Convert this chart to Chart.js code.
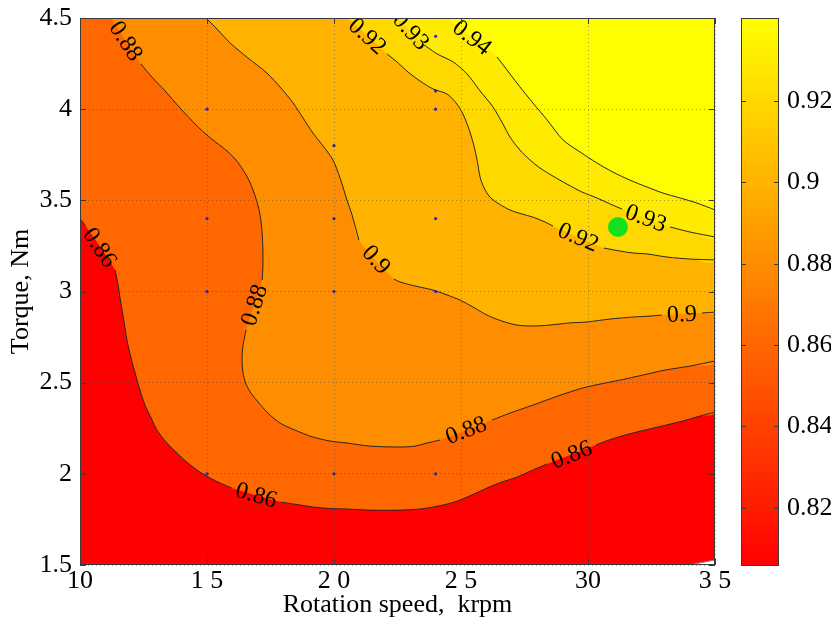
<!DOCTYPE html>
<html>
<head>
<meta charset="utf-8">
<title>Efficiency map</title>
<script src="https://cdn.jsdelivr.net/npm/chart.js@4"></script>
<style>
  html, body { margin: 0; padding: 0; background: #fff; }
  #wrap { position: relative; width: 831px; height: 625px; overflow: hidden; }
  #map { position: absolute; left: 0; top: 0; }
  #bar { position: absolute; left: 741px; top: 0; }
</style>
</head>
<body>
<div id="wrap">
  <canvas id="map" width="741" height="625"></canvas>
  <canvas id="bar" width="90" height="625"></canvas>
</div>
<script>
// Efficiency map: filled iso-efficiency contours over speed (krpm) / torque (Nm)

const speedRange = [10, 35];
const torqueRange = [1.5, 4.5];
const speedTicks = [10, 15, 20, 25, 30, 35];
const speedTickLabels = ["10", "1 5", "2 0", "2 5", "30", "3 5"];
const torqueTicks = [1.5, 2, 2.5, 3, 3.5, 4, 4.5];
const torqueTickLabels = ["1.5", "2", "2.5", "3", "3.5", "4", "4.5"];

// colour scale (autumn: red -> yellow)
const effRange = [0.8057, 0.9404];
const effTicks = [0.82, 0.84, 0.86, 0.88, 0.9, 0.92];
const effTickLabels = ["0.82", "0.84", "0.86", "0.88", "0.9", "0.92"];

// iso-efficiency lines as [speed, torque] runs; each break between runs holds a label
const iso086 = [
  [[10.00, 3.398], [10.20, 3.365]],
  [[11.38, 3.118], [11.50, 3.035], [11.57, 2.970], [11.69, 2.871], [11.85, 2.734], [12.01, 2.635],
   [12.17, 2.553], [12.36, 2.460], [12.56, 2.377], [12.80, 2.306], [13.03, 2.240], [13.39, 2.174],
   [13.82, 2.114], [14.25, 2.059], [14.72, 2.010], [15.12, 1.977], [15.51, 1.950], [15.98, 1.922]],
  [[17.91, 1.845], [18.66, 1.829], [19.17, 1.818], [19.84, 1.810], [20.51, 1.807], [21.42, 1.801],
   [22.60, 1.801], [23.39, 1.807], [23.90, 1.818], [24.45, 1.834], [24.96, 1.856], [25.51, 1.889],
   [26.02, 1.922], [26.61, 1.955], [27.20, 1.982], [27.83, 2.021], [28.39, 2.054]],
  [[30.31, 2.158], [30.94, 2.191], [31.77, 2.224], [32.76, 2.257], [33.74, 2.290], [34.41, 2.317],
   [35.00, 2.339]],
];
const iso088 = [
  [[11.22, 4.500]],
  [[12.40, 4.248], [12.83, 4.176], [13.35, 4.100], [13.94, 4.006], [14.65, 3.902], [15.00, 3.858],
   [15.39, 3.814], [15.79, 3.771], [16.14, 3.721], [16.42, 3.666], [16.65, 3.611], [16.81, 3.557],
   [16.97, 3.491], [17.09, 3.420], [17.17, 3.321], [17.20, 3.227], [17.20, 3.134], [17.17, 3.063]],
  [[16.54, 2.789], [16.42, 2.706], [16.38, 2.624], [16.42, 2.553], [16.54, 2.492], [16.73, 2.443],
   [17.01, 2.394], [17.40, 2.333], [17.87, 2.279], [18.46, 2.240], [19.17, 2.202], [19.84, 2.180],
   [20.51, 2.169], [21.42, 2.152], [22.60, 2.147], [23.19, 2.152], [23.66, 2.169], [24.17, 2.185]],
  [[26.22, 2.295], [26.93, 2.333], [27.83, 2.377], [28.82, 2.427], [29.80, 2.471], [30.47, 2.492],
   [31.26, 2.514], [32.17, 2.542], [33.03, 2.569], [34.02, 2.591], [35.00, 2.619]],
];
const iso090 = [
  [[14.96, 4.500], [15.43, 4.434], [15.91, 4.363], [16.61, 4.281], [17.36, 4.198], [17.91, 4.116],
   [18.39, 4.034], [18.78, 3.952], [19.17, 3.869], [19.57, 3.798], [19.96, 3.721], [20.24, 3.622],
   [20.51, 3.502], [20.71, 3.420], [20.98, 3.282]],
  [[22.36, 3.068], [22.60, 3.052], [23.19, 3.030], [23.90, 3.008], [24.45, 2.981], [24.96, 2.953],
   [25.47, 2.915], [26.02, 2.871], [26.61, 2.838], [27.20, 2.816], [27.83, 2.811], [28.50, 2.816],
   [29.21, 2.827], [29.96, 2.833], [30.87, 2.849], [31.77, 2.860], [32.44, 2.865], [32.91, 2.871]],
  [[34.49, 2.882], [35.00, 2.887]],
];
const iso092 = [
  [[20.55, 4.500]],
  [[22.09, 4.303], [22.48, 4.259], [22.87, 4.209], [23.39, 4.154], [23.90, 4.111], [24.45, 4.083],
   [24.84, 4.028], [25.08, 3.973], [25.24, 3.919], [25.39, 3.858], [25.55, 3.776], [25.67, 3.694],
   [25.75, 3.628], [25.91, 3.568], [26.14, 3.518], [26.50, 3.480], [26.93, 3.447], [27.40, 3.425],
   [27.83, 3.408], [28.31, 3.381], [28.62, 3.359]],
  [[30.63, 3.238], [31.26, 3.222], [31.77, 3.211], [32.32, 3.206], [33.11, 3.189], [34.02, 3.178],
   [35.00, 3.173]],
];
const iso093 = [
  [[22.56, 4.500]],
  [[23.50, 4.357], [24.06, 4.303], [24.69, 4.259], [25.24, 4.193], [25.75, 4.100], [26.26, 4.012],
   [26.65, 3.919], [26.93, 3.847], [27.32, 3.776], [27.72, 3.721], [28.11, 3.677], [28.62, 3.633],
   [29.17, 3.589], [29.76, 3.546], [30.35, 3.513], [30.87, 3.480], [31.34, 3.452]],
  [[33.23, 3.354], [34.02, 3.326], [35.00, 3.299]],
];
const iso094 = [
  [[24.45, 4.500]],
  [[26.42, 4.286], [26.93, 4.193], [27.32, 4.122], [27.83, 4.034], [28.39, 3.941], [29.02, 3.831],
   [29.69, 3.765], [30.35, 3.705], [30.98, 3.655], [31.65, 3.611], [32.32, 3.573], [32.95, 3.540],
   [33.62, 3.513], [34.29, 3.485], [35.00, 3.447]],
];
const contourLevels = [0.86, 0.88, 0.9, 0.92, 0.93, 0.94];
const contourLines = [iso086, iso088, iso090, iso092, iso093, iso094];

// corner outside the measured envelope (no data)
const noDataCorner = [[33.98, 1.5], [35.00, 1.527], [35.00, 1.5]];

// measured operating points
const pointSpeed = [15, 15, 15, 15, 20, 20, 20, 20, 24, 24, 24, 24, 24, 24];
const pointTorque = [4.0, 3.4, 3.0, 2.0, 3.8, 3.4, 3.0, 2.0, 4.4, 4.1, 4.0, 3.4, 3.0, 2.0];
const optimumSpeed = [31.18];
const optimumTorque = [3.354];

const SERIF = '"Liberation Serif", "Times New Roman", serif';
const LINE = "#262626";

const autumn = (t) => `rgb(255, ${Math.round(255 * Math.min(1, Math.max(0, t)))}, 0)`;
const levelColor = (v) => autumn((v - effRange[0]) / (effRange[1] - effRange[0]));
const toXY = (pts) => pts.map(([x, y]) => ({ x, y }));

// close a contour along the right/top (and left) edges into the region above it
function outline(pieces) {
  const pts = pieces.flat();
  const first = pts[0], last = pts[pts.length - 1];
  if (last[0] === speedRange[1]) pts.push([speedRange[1], torqueRange[1]]);
  if (first[0] === speedRange[0]) pts.push([speedRange[0], torqueRange[1]]);
  return pts;
}

const datasets = [];
const area = (data, color, order, tension) => ({
  data: toXY(data), showLine: true, fill: "shape", backgroundColor: color,
  borderWidth: 0, pointRadius: 0, tension, order,
});

datasets.push(area([[speedRange[0], torqueRange[0]], [speedRange[1], torqueRange[0]],
  [speedRange[1], torqueRange[1]], [speedRange[0], torqueRange[1]]], autumn(0), 30, 0));
contourLevels.forEach((lv, i) => {
  datasets.push(area(outline(contourLines[i]), levelColor(lv), 29 - i, 0.3));
});
datasets.push({ ...area(noDataCorner, "#ffffff", 20, 0), borderWidth: 1, borderColor: "#8a8a8a" });

contourLines.forEach((pieces) => {
  pieces.filter((p) => p.length > 1).forEach((p) => {
    datasets.push({
      data: toXY(p), showLine: true, fill: false, borderColor: LINE, borderWidth: 1,
      pointRadius: 0, tension: 0.3, order: 5,
    });
  });
});

datasets.push({
  data: pointSpeed.map((x, i) => ({ x, y: pointTorque[i] })),
  pointRadius: 1.6, pointBackgroundColor: "#2626b8", pointBorderWidth: 0, order: 2,
});
datasets.push({
  data: optimumSpeed.map((x, i) => ({ x, y: optimumTorque[i] })),
  pointRadius: 10, pointBackgroundColor: "#12e21e", pointBorderWidth: 0, order: 1,
});

// inline contour labels, sitting in the breaks of each line, plus the axes box
const mapOverlay = {
  id: "mapOverlay",
  afterDraw(chart) {
    const { ctx, chartArea: a, scales: { x, y } } = chart;
    ctx.save();
    ctx.beginPath();
    ctx.rect(a.left, a.top, a.width, a.height);
    ctx.clip();
    ctx.font = `24px ${SERIF}`;
    ctx.fillStyle = "#000";
    ctx.textAlign = "center";
    ctx.textBaseline = "middle";
    contourLines.forEach((pieces, k) => {
      for (let i = 0; i + 1 < pieces.length; i++) {
        const p = pieces[i][pieces[i].length - 1], q = pieces[i + 1][0];
        const x1 = x.getPixelForValue(p[0]), y1 = y.getPixelForValue(p[1]);
        const x2 = x.getPixelForValue(q[0]), y2 = y.getPixelForValue(q[1]);
        let ang = Math.atan2(y2 - y1, x2 - x1);
        if (ang > Math.PI / 2) ang -= Math.PI;
        if (ang < -Math.PI / 2) ang += Math.PI;
        ctx.save();
        ctx.translate((x1 + x2) / 2, (y1 + y2) / 2);
        ctx.rotate(ang);
        ctx.fillText(String(contourLevels[k]), 0, 1);
        ctx.restore();
      }
    });
    ctx.restore();

    ctx.save();
    ctx.strokeStyle = "#3a3a3a";
    ctx.lineWidth = 1;
    ctx.strokeRect(a.left + 0.5, a.top + 0.5, a.width - 1, a.height - 1);
    ctx.beginPath();
    speedTicks.forEach((v) => {
      const px = Math.round(x.getPixelForValue(v)) + 0.5;
      ctx.moveTo(px, a.bottom); ctx.lineTo(px, a.bottom - 6);
      ctx.moveTo(px, a.top); ctx.lineTo(px, a.top + 6);
    });
    torqueTicks.forEach((v) => {
      const py = Math.round(y.getPixelForValue(v)) + 0.5;
      ctx.moveTo(a.left, py); ctx.lineTo(a.left + 6, py);
      ctx.moveTo(a.right, py); ctx.lineTo(a.right - 6, py);
    });
    ctx.stroke();
    ctx.restore();
  },
};

const tickFont = { family: SERIF, size: 26 };
const gridStyle = { color: "rgba(50,50,50,0.42)", drawTicks: false, z: 1 };

new Chart(document.getElementById("map"), {
  type: "scatter",
  data: { datasets },
  options: {
    responsive: false,
    animation: false,
    events: [],
    layout: { padding: { left: 0, top: 18, right: 26, bottom: 0 }, autoPadding: false },
    plugins: { legend: { display: false }, tooltip: { enabled: false } },
    scales: {
      x: {
        type: "linear", min: speedRange[0], max: speedRange[1],
        afterBuildTicks: (s) => { s.ticks = speedTicks.map((value) => ({ value })); },
        afterFit: (s) => { s.height = 60; s.paddingLeft = 0; s.paddingRight = 0; },
        ticks: { callback: (v, i) => speedTickLabels[i], color: "#000", font: tickFont, padding: 1, maxRotation: 0, autoSkip: false },
        grid: gridStyle,
        border: { display: false, dash: [1, 3] },
        title: { display: true, text: "Rotation speed,  krpm", color: "#000", font: tickFont, padding: { top: 0, bottom: 4 } },
      },
      y: {
        type: "linear", min: torqueRange[0], max: torqueRange[1],
        afterBuildTicks: (s) => { s.ticks = torqueTicks.map((value) => ({ value })); },
        afterFit: (s) => { s.width = 80; s.paddingTop = 0; s.paddingBottom = 0; },
        ticks: { callback: (v, i) => torqueTickLabels[i], color: "#000", font: tickFont, padding: 8, autoSkip: false },
        grid: gridStyle,
        border: { display: false, dash: [1, 3] },
        title: { display: true, text: "Torque, Nm", color: "#000", font: tickFont, padding: { top: 6, bottom: 0 } },
      },
    },
  },
  plugins: [mapOverlay],
});

// colour bar
const barFrame = {
  id: "barFrame",
  afterDraw(chart) {
    const { ctx, chartArea: a, scales: { y } } = chart;
    ctx.save();
    ctx.strokeStyle = "#3a3a3a";
    ctx.lineWidth = 1;
    ctx.strokeRect(a.left + 0.5, a.top + 0.5, a.width - 1, a.height - 1);
    ctx.beginPath();
    effTicks.forEach((v) => {
      const py = Math.round(y.getPixelForValue(v)) + 0.5;
      ctx.moveTo(a.left, py); ctx.lineTo(a.left + 5, py);
      ctx.moveTo(a.right, py); ctx.lineTo(a.right - 5, py);
    });
    ctx.stroke();
    ctx.restore();
  },
};

new Chart(document.getElementById("bar"), {
  type: "bar",
  data: {
    labels: [""],
    datasets: [{
      data: [effRange],
      borderWidth: 0,
      barPercentage: 1,
      categoryPercentage: 1,
      backgroundColor: (c) => {
        const { ctx, chartArea, scales } = c.chart;
        if (!chartArea) return autumn(0);
        const g = ctx.createLinearGradient(0, scales.y.getPixelForValue(effRange[0]), 0, scales.y.getPixelForValue(effRange[1]));
        g.addColorStop(0, autumn(0));
        g.addColorStop(1, autumn(1));
        return g;
      },
    }],
  },
  options: {
    responsive: false,
    animation: false,
    events: [],
    layout: { padding: { left: 0, top: 18, right: 0, bottom: 59 }, autoPadding: false },
    plugins: { legend: { display: false }, tooltip: { enabled: false } },
    scales: {
      x: { display: false },
      y: {
        position: "right", min: effRange[0], max: effRange[1],
        afterBuildTicks: (s) => { s.ticks = effTicks.map((value) => ({ value })); },
        afterFit: (s) => { s.width = 52; s.paddingTop = 0; s.paddingBottom = 0; },
        ticks: { callback: (v, i) => effTickLabels[i], color: "#000", font: tickFont, padding: 8 },
        grid: { display: false, drawTicks: false },
        border: { display: false },
      },
    },
  },
  plugins: [barFrame],
});
</script>
</body>
</html>
